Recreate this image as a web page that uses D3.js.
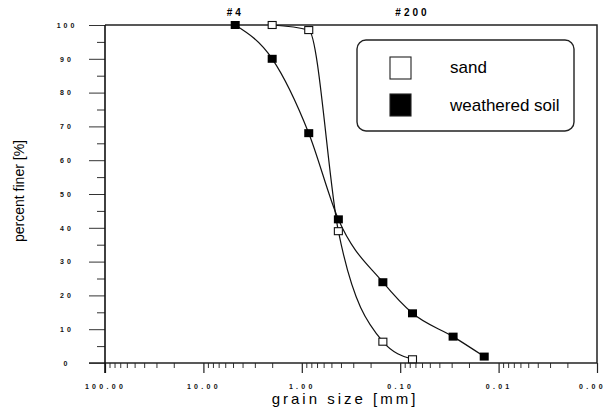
<!DOCTYPE html>
<html>
<head>
<meta charset="utf-8">
<script src="https://cdn.jsdelivr.net/npm/d3@7"></script>
<style>
  body { margin: 0; background: #fff; }
  svg { display: block; font-family: "Liberation Sans", Arial, sans-serif; }
</style>
</head>
<body>
<div id="main"></div>
<script>
// grain size distribution
const sandSize = [2.0, 0.85, 0.425, 0.15, 0.075];
const sandFiner = [100, 98.5, 39, 6.3, 1.1];

const soilSize = [4.75, 2.0, 0.85, 0.425, 0.15, 0.075, 0.029, 0.014];
const soilFiner = [100, 90, 68, 42.5, 23.9, 14.7, 7.8, 1.9];

const sieveLabels = ["#4", "#200"];
const sieveSizes = [4.75, 0.075];

const xMajor = [100, 10, 1, 0.1, 0.01, 0.001];
const xMajorLabels = ["100.00", "10.00", "1.00", "0.10", "0.01", "0.00"];
const yMajor = [0, 10, 20, 30, 40, 50, 60, 70, 80, 90, 100];
const yMinor = [5, 15, 25, 35, 45, 55, 65, 75, 85, 95];

const legendNames = ["sand", "weathered soil"];

const width = 609;
const height = 411;

const svg = d3.select("#main")
    .append("svg")
    .attr("width", width)
    .attr("height", height);

const x = d3.scaleLog()
    .domain([100, 0.001])
    .range([105, 597]);

const y = d3.scaleLinear()
    .domain([0, 100])
    .range([363, 25]);

// frame (top + right)
svg.append("path")
    .attr("d", `M${x(100)},${y(100)}H${x(0.001)}V${y(0)}`)
    .attr("fill", "none")
    .attr("stroke", "#222")
    .attr("stroke-width", 1.5);

// x axis: minor ticks
const xMinor = x.ticks().filter(t => !xMajor.some(m => Math.abs(m - t) / m < 1e-6));
svg.append("g")
    .attr("transform", `translate(0,${y(0)})`)
    .call(d3.axisBottom(x).tickValues(xMinor).tickSize(5).tickFormat(""))
    .call(g => g.select(".domain").remove())
    .call(g => g.selectAll("line").attr("stroke", "#333"));

// x axis: decades
svg.append("g")
    .attr("transform", `translate(0,${y(0)})`)
    .call(d3.axisBottom(x)
        .tickValues(xMajor)
        .tickSize(10)
        .tickPadding(11)
        .tickFormat((d, i) => xMajorLabels[i]))
    .call(g => g.select(".domain").remove())
    .call(g => g.selectAll("line").attr("stroke", "#222").attr("stroke-width", 1.2))
    .call(g => g.selectAll("text")
        .attr("font-size", 7)
        .attr("font-weight", "bold")
        .attr("letter-spacing", 3.3)
        .attr("fill", "#111")
        .attr("dx", (d, i) => i === xMajor.length - 1 ? -5 : 0));

// x axis line, runs a little past the y axis
svg.append("line")
    .attr("x1", x(100) - 16)
    .attr("x2", x(0.001))
    .attr("y1", y(0))
    .attr("y2", y(0))
    .attr("stroke", "#222")
    .attr("stroke-width", 1.5);

// y axis
svg.append("g")
    .attr("transform", `translate(${x(100)},0)`)
    .call(d3.axisLeft(y).tickValues(yMinor).tickSize(8).tickFormat(""))
    .call(g => g.select(".domain").remove())
    .call(g => g.selectAll("line").attr("stroke", "#333"));

svg.append("g")
    .attr("transform", `translate(${x(100)},0)`)
    .call(d3.axisLeft(y).tickValues(yMajor).tickSize(16).tickFormat(d => String(d)))
    .call(g => g.select(".domain").remove())
    .call(g => g.selectAll("line").attr("stroke", "#333"))
    .call(g => g.selectAll("text")
        .attr("x", -38)
        .attr("text-anchor", "middle")
        .attr("font-size", 7)
        .attr("font-weight", "bold")
        .attr("letter-spacing", 3)
        .attr("fill", "#111"));

svg.append("line")
    .attr("x1", x(100))
    .attr("x2", x(100))
    .attr("y1", y(100))
    .attr("y2", y(0) + 10)
    .attr("stroke", "#111")
    .attr("stroke-width", 1.6);

// sieve labels on top
svg.append("g")
    .selectAll("text")
    .data(sieveSizes)
    .join("text")
    .attr("x", d => x(d))
    .attr("y", 16)
    .attr("text-anchor", "middle")
    .attr("font-size", 10)
    .attr("font-weight", "bold")
    .attr("letter-spacing", 3)
    .text((d, i) => sieveLabels[i]);

// axis titles
svg.append("text")
    .attr("x", 345)
    .attr("y", 404)
    .attr("text-anchor", "middle")
    .attr("font-size", 15)
    .attr("letter-spacing", 3)
    .text("grain size [mm]");

svg.append("text")
    .attr("transform", "translate(24,191) rotate(-90)")
    .attr("text-anchor", "middle")
    .attr("font-size", 14)
    .text("percent finer [%]");

// curves
const line = d3.line()
    .x(d => x(d[0]))
    .y(d => y(d[1]))
    .curve(d3.curveMonotoneX);

const sand = sandSize.map((s, i) => [s, sandFiner[i]]);
const soil = soilSize.map((s, i) => [s, soilFiner[i]]);

svg.append("path")
    .datum(sand)
    .attr("d", line)
    .attr("fill", "none")
    .attr("stroke", "#111")
    .attr("stroke-width", 1.2);

svg.append("path")
    .datum(soil)
    .attr("d", line)
    .attr("fill", "none")
    .attr("stroke", "#111")
    .attr("stroke-width", 1.2);

svg.append("g")
    .selectAll("rect")
    .data(sand)
    .join("rect")
    .attr("x", d => x(d[0]) - 4)
    .attr("y", d => y(d[1]) - 3.5)
    .attr("width", 8)
    .attr("height", 7)
    .attr("fill", "#fff")
    .attr("stroke", "#111")
    .attr("stroke-width", 1.1);

svg.append("g")
    .selectAll("rect")
    .data(soil)
    .join("rect")
    .attr("x", d => x(d[0]) - 4.5)
    .attr("y", d => y(d[1]) - 4)
    .attr("width", 9)
    .attr("height", 8)
    .attr("fill", "#000");

// legend
const legend = svg.append("g").attr("id", "legend");

legend.append("rect")
    .attr("x", 357)
    .attr("y", 40)
    .attr("width", 217)
    .attr("height", 91)
    .attr("rx", 9)
    .attr("fill", "#fff")
    .attr("stroke", "#222")
    .attr("stroke-width", 1.4);

legend.selectAll(".key")
    .data(legendNames)
    .join("rect")
    .attr("class", "key")
    .attr("x", 390)
    .attr("y", (d, i) => 57 + i * 37)
    .attr("width", 21)
    .attr("height", 22)
    .attr("fill", (d, i) => i === 0 ? "#fff" : "#000")
    .attr("stroke", "#222")
    .attr("stroke-width", 1.1);

legend.selectAll(".name")
    .data(legendNames)
    .join("text")
    .attr("class", "name")
    .attr("x", 450)
    .attr("y", (d, i) => 73 + i * 38)
    .attr("font-size", 17)
    .text(d => d);
</script>
</body>
</html>
